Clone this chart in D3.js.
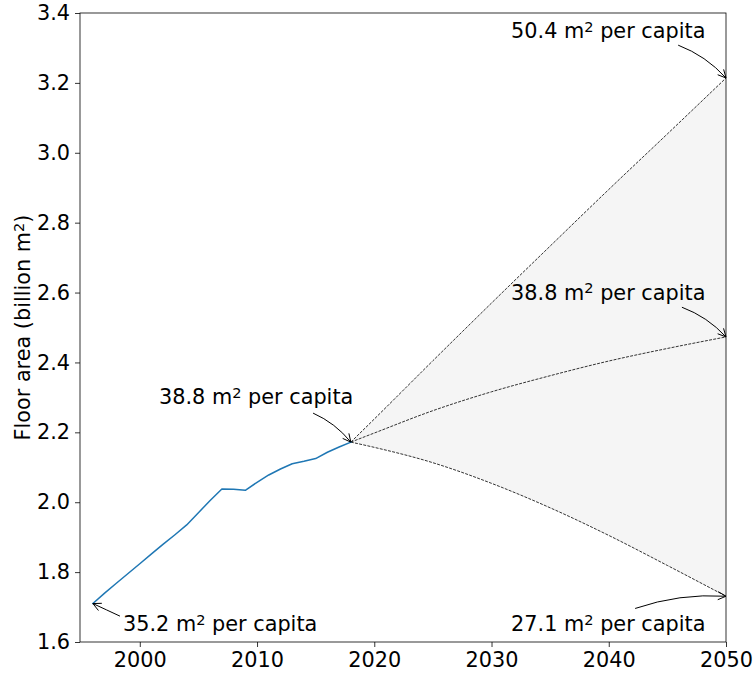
<!DOCTYPE html>
<html>
<head>
<meta charset="utf-8">
<script src="https://cdn.jsdelivr.net/npm/d3@7"></script>
<style>
  html, body { margin: 0; padding: 0; background: #fff; }
  svg { display: block; font-family: "DejaVu Sans", sans-serif; }
</style>
</head>
<body>
<svg id="chart" width="754" height="675"></svg>
<script>
// Historical floor area (billion m²)
const histYears = [1996, 1997, 1998, 1999, 2000, 2001, 2002, 2003, 2004, 2005, 2006, 2007,
                   2008, 2009, 2010, 2011, 2012, 2013, 2014, 2015, 2016, 2017, 2018];
const histArea = [1.71, 1.74, 1.768, 1.796, 1.824, 1.852, 1.88, 1.907, 1.935, 1.97, 2.005, 2.038,
                  2.037, 2.034, 2.057, 2.078, 2.095, 2.11, 2.117, 2.125, 2.143, 2.158, 2.172];

// Projection scenarios to 2050
const projYears = [2018, 2020, 2025, 2030, 2035, 2040, 2045, 2050];
const projHigh = [2.172, 2.238, 2.405, 2.570, 2.733, 2.895, 3.054, 3.214];
const projMid  = [2.172, 2.198, 2.262, 2.316, 2.362, 2.404, 2.440, 2.473];
const projLow  = [2.172, 2.157, 2.113, 2.054, 1.984, 1.905, 1.819, 1.731];

const xTicks = [2000, 2010, 2020, 2030, 2040, 2050];
const yTicks = [1.6, 1.8, 2.0, 2.2, 2.4, 2.6, 2.8, 3.0, 3.2, 3.4];

// Per-capita labels: value, point annotated, label position, arrow tail (data units)
const labelValues = ["35.2", "38.8", "50.4", "38.8", "27.1"];
const labelPoints = [[1996, 1.71], [2018, 2.172], [2050, 3.214], [2050, 2.473], [2050, 1.731]];
const labelText   = [[1998.57, 1.631], [2001.64, 2.281], [2031.67, 3.328], [2031.67, 2.580], [2031.67, 1.631]];
const labelTail   = [[1998.31, 1.674], [2014.78, 2.255], [2045.92, 3.308], [2046.24, 2.558], [2042.25, 1.696]];
const labelBend   = [0, 0.12, 0.12, 0.12, 0.1];

const svg = d3.select("#chart");
const plotLeft = 80, plotRight = 726, plotTop = 13, plotBottom = 642;
const fontSize = 20.8;
const supSize = fontSize * 0.7, supRise = 6.5;

const x = d3.scaleLinear().domain([1994.9, 2050]).range([plotLeft, plotRight]);
const y = d3.scaleLinear().domain([1.6, 3.4]).range([plotBottom, plotTop]);

const defs = svg.append("defs");
defs.append("clipPath").attr("id", "plotclip")
  .append("rect").attr("x", plotLeft).attr("y", plotTop)
  .attr("width", plotRight - plotLeft).attr("height", plotBottom - plotTop);

const plot = svg.append("g").attr("clip-path", "url(#plotclip)");

// Shaded range between high and low scenarios
const band = projYears.map((yr, i) => ({ yr, hi: projHigh[i], lo: projLow[i] }));
plot.append("path")
  .datum(band)
  .attr("fill", "#f5f5f5")
  .attr("d", d3.area().curve(d3.curveMonotoneX)
    .x(d => x(d.yr)).y0(d => y(d.lo)).y1(d => y(d.hi)));

// Dashed scenario lines
const dashLine = d3.line().curve(d3.curveMonotoneX).x(d => x(d[0])).y(d => y(d[1]));
[projHigh, projMid, projLow].forEach(series => {
  plot.append("path")
    .datum(projYears.map((yr, i) => [yr, series[i]]))
    .attr("fill", "none")
    .attr("stroke", "#000")
    .attr("stroke-width", 0.8)
    .attr("stroke-dasharray", "2.96,1.28")
    .attr("d", dashLine);
});

// Historical line
plot.append("path")
  .datum(histYears.map((yr, i) => [yr, histArea[i]]))
  .attr("fill", "none")
  .attr("stroke", "#1f77b4")
  .attr("stroke-width", 1.5)
  .attr("stroke-linejoin", "round")
  .attr("stroke-linecap", "square")
  .attr("d", d3.line().x(d => x(d[0])).y(d => y(d[1])));

// Axes
const xAxis = svg.append("g")
  .attr("transform", `translate(0,${plotBottom})`)
  .call(d3.axisBottom(x).tickValues(xTicks).tickFormat(d3.format("d")).tickSize(5).tickPadding(5));
const yAxis = svg.append("g")
  .attr("transform", `translate(${plotLeft},0)`)
  .call(d3.axisLeft(y).tickValues(yTicks).tickFormat(d3.format(".1f")).tickSize(5).tickPadding(5));
[xAxis, yAxis].forEach(g => {
  g.select(".domain").remove();
  g.selectAll(".tick line").attr("stroke", "#000").attr("stroke-width", 0.8);
  g.selectAll(".tick text")
    .attr("fill", "#000")
    .style("font-family", "'DejaVu Sans', sans-serif")
    .style("font-size", fontSize + "px");
});

// Frame
svg.append("rect")
  .attr("x", plotLeft).attr("y", plotTop)
  .attr("width", plotRight - plotLeft).attr("height", plotBottom - plotTop)
  .attr("fill", "none").attr("stroke", "#000").attr("stroke-width", 0.8);

// Y axis title with superscript
const yTitle = svg.append("text")
  .attr("transform", `translate(30,${(plotTop + plotBottom) / 2}) rotate(-90)`)
  .attr("text-anchor", "middle")
  .attr("fill", "#000")
  .style("font-size", fontSize + "px");
yTitle.append("tspan").text("Floor area (billion m");
yTitle.append("tspan").text("2").attr("dy", -supRise).style("font-size", supSize + "px");
yTitle.append("tspan").text(")").attr("dy", supRise);

// Annotations with curved open arrows
const ann = svg.append("g");
labelValues.forEach((val, i) => {
  const [tx, ty] = [x(labelText[i][0]), y(labelText[i][1])];
  const t = ann.append("text")
    .attr("x", tx).attr("y", ty)
    .attr("fill", "#000")
    .style("font-size", fontSize + "px");
  t.append("tspan").text(val + " m");
  t.append("tspan").text("2").attr("dy", -supRise).style("font-size", supSize + "px");
  t.append("tspan").text(" per capita").attr("dy", supRise);

  const x0 = x(labelTail[i][0]), y0 = y(labelTail[i][1]);
  const x1 = x(labelPoints[i][0]), y1 = y(labelPoints[i][1]);
  const dx = x1 - x0, dy = y1 - y0;
  const r = labelBend[i];
  const cx = (x0 + x1) / 2 + r * dy, cy = (y0 + y1) / 2 - r * dx;
  ann.append("path")
    .attr("d", `M${x0},${y0} Q${cx},${cy} ${x1},${y1}`)
    .attr("fill", "none").attr("stroke", "#000").attr("stroke-width", 1);

  // open arrow head aligned with the end tangent
  const ex = x1 - cx, ey = y1 - cy;
  const len = Math.hypot(ex, ey) || 1;
  const ux = ex / len, uy = ey / len;
  const hl = 8, hw = 4;
  const bx = x1 - ux * hl, by = y1 - uy * hl;
  ann.append("path")
    .attr("d", `M${bx - uy * hw},${by + ux * hw} L${x1},${y1} L${bx + uy * hw},${by - ux * hw}`)
    .attr("fill", "none").attr("stroke", "#000").attr("stroke-width", 1)
    .attr("stroke-linejoin", "miter");
});
</script>
</body>
</html>
